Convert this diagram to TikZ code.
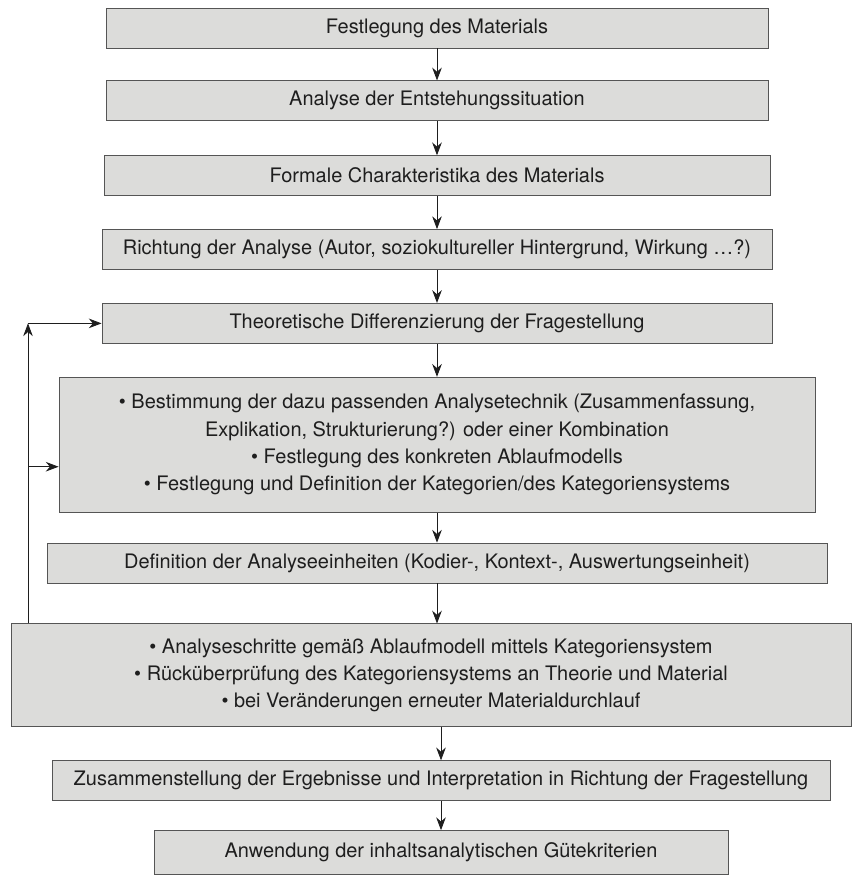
\documentclass[tikz,border=0pt]{standalone}
\usepackage{fontspec}
\setmainfont{TeX Gyre Heros}
\usetikzlibrary{arrows.meta,positioning}
\definecolor{boxgray}{RGB}{220,220,218}
\definecolor{edgegray}{RGB}{85,85,85}
\definecolor{textgray}{RGB}{30,30,30}
\tikzstyle{arrow} = [semithick,->,>={Stealth[length=3.2mm,width=2.4mm]},color=textgray]
\tikzstyle{stepbox} = [rectangle, draw=edgegray, fill=boxgray, semithick, text=textgray, align=center, font=\fontsize{14.2}{19.5}\selectfont, minimum height=1cm, inner sep=2pt]

\begin{document}
\begin{tikzpicture}
\useasboundingbox (0,0) rectangle (21.4,-22.2);
\node[stepbox, minimum width=16.55cm] (b1) at (10.925,-0.7) {Festlegung des Materials};
\node[stepbox, minimum width=16.55cm, below=0.8cm of b1] (b2) {Analyse der Entstehungssituation};
\node[stepbox, minimum width=16.65cm, below=0.85cm of b2] (b3) {Formale Charakteristika des Materials};
\node[stepbox, minimum width=16.75cm, below=0.825cm of b3] (b4) {Richtung der Analyse (Autor, soziokultureller Hintergrund, Wirkung \dots?)};
\node[stepbox, minimum width=16.75cm, below=0.825cm of b4] (b5) {Theoretische Differenzierung der Fragestellung};
\node[stepbox, minimum width=18.9cm, minimum height=3.375cm, below=0.825cm of b5] (b6) {• Bestimmung der dazu passenden Analysetechnik (Zusammenfassung,\\Explikation, Strukturierung?) oder einer Kombination\\• Festlegung des konkreten Ablaufmodells\\• Festlegung und Definition der Kategorien/des Kategoriensystems};
\node[stepbox, minimum width=19.5cm, below=0.75cm of b6] (b7) {Definition der Analyseeinheiten (Kodier-, Kontext-, Auswertungseinheit)};
\node[stepbox, minimum width=21cm, minimum height=2.575cm, below=1cm of b7, xshift=-0.15cm] (b8) {• Analyseschritte gemäß Ablaufmodell mittels Kategoriensystem\\• Rücküberprüfung des Kategoriensystems an Theorie und Material\\• bei Veränderungen erneuter Materialdurchlauf};
\node[stepbox, minimum width=19.45cm, below=0.825cm of b8, xshift=0.25cm] (b9) {Zusammenstellung der Ergebnisse und Interpretation in Richtung der Fragestellung};
\node[stepbox, minimum width=14.35cm, minimum height=1.1cm, below=0.725cm of b9] (b10) {Anwendung der inhaltsanalytischen Gütekriterien};
% main flow
\foreach \i/\j in {b1/b2,b2/b3,b3/b4,b4/b5,b5/b6,b6/b7,b7/b8,b9/b10}
  \draw[arrow] (\i.south) -- (\i.south |- \j.north);
\draw[arrow] (b9.north |- b8.south) -- (b9.north);
% feedback loop
\coordinate (fbx) at (0.7,0);
\draw[arrow] (fbx |- b8.north) -- (fbx |- b5.west);
\draw[arrow] (fbx |- b5.west) -- (b5.west);
\draw[arrow] ([yshift=-0.55cm]fbx |- b6.west) -- ([yshift=-0.55cm]b6.west);
\end{tikzpicture}
\end{document}
